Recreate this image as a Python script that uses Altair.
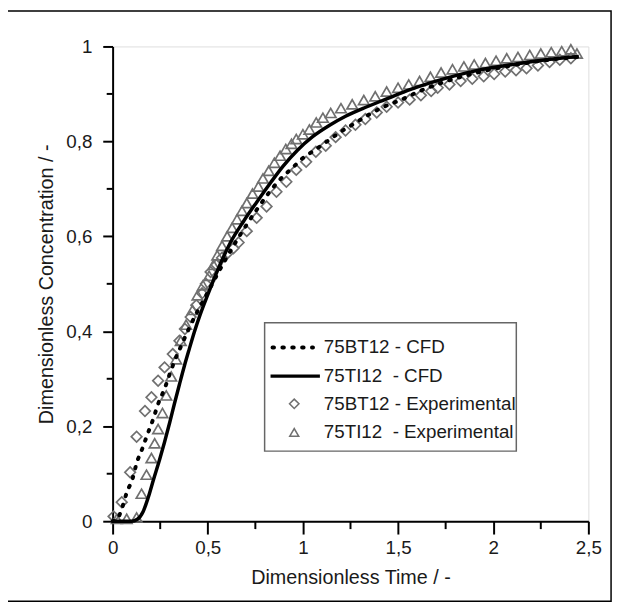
import altair as alt
import pandas as pd

# ---------------- data ----------------
bt_cfd_t = [0.0, 0.02, 0.048, 0.074, 0.105, 0.126, 0.157, 0.183, 0.213, 0.239, 0.273, 0.30, 0.325,
            0.36, 0.40, 0.45, 0.50, 0.55, 0.60, 0.65, 0.70, 0.75, 0.818, 0.88, 0.939, 1.0, 1.06,
            1.12, 1.19, 1.26, 1.328, 1.42, 1.518, 1.62, 1.726, 1.85, 1.97, 2.10, 2.22, 2.34, 2.45]
bt_cfd_c = [0.0, 0.002, 0.026, 0.06, 0.09, 0.122, 0.154, 0.183, 0.215, 0.247, 0.279, 0.31, 0.337,
            0.369, 0.405, 0.445, 0.482, 0.52, 0.556, 0.59, 0.622, 0.652, 0.69, 0.72, 0.742, 0.765, 0.781,
            0.798, 0.818, 0.835, 0.852, 0.872, 0.888, 0.907, 0.923, 0.938, 0.95, 0.96, 0.968, 0.974, 0.978]

ti_cfd_t = [0.0, 0.10, 0.13, 0.16, 0.187, 0.215, 0.247, 0.273, 0.30, 0.325, 0.351, 0.377, 0.403,
            0.429, 0.46, 0.498, 0.55, 0.619, 0.69, 0.757, 0.83, 0.896, 0.97, 1.051, 1.14, 1.224,
            1.33, 1.43, 1.57, 1.726, 1.90, 2.10, 2.30, 2.45]
ti_cfd_c = [0.0, 0.0, 0.004, 0.02, 0.05, 0.088, 0.13, 0.167, 0.208, 0.248, 0.288, 0.327, 0.363,
            0.398, 0.435, 0.475, 0.527, 0.587, 0.633, 0.672, 0.713, 0.748, 0.781, 0.81, 0.834, 0.853,
            0.872, 0.888, 0.91, 0.93, 0.948, 0.962, 0.973, 0.979]

bt_exp_t = [0.005, 0.048, 0.092, 0.126, 0.17, 0.204, 0.239, 0.273, 0.316, 0.351, 0.38, 0.41, 0.44,
            0.47, 0.49, 0.515, 0.545, 0.575, 0.605, 0.635, 0.662, 0.705, 0.757, 0.809, 0.861, 0.913,
            0.965, 1.017, 1.068, 1.12, 1.172, 1.224, 1.276, 1.328, 1.388, 1.44, 1.50, 1.561, 1.62,
            1.674, 1.708, 1.77, 1.829, 1.89, 1.95, 2.005, 2.063, 2.12, 2.175, 2.235, 2.296, 2.35, 2.408]
bt_exp_c = [0.01, 0.04, 0.103, 0.178, 0.232, 0.261, 0.296, 0.324, 0.352, 0.38, 0.405, 0.43, 0.455,
            0.48, 0.50, 0.525, 0.54, 0.555, 0.565, 0.575, 0.587, 0.611, 0.639, 0.663, 0.694, 0.715,
            0.74, 0.757, 0.778, 0.791, 0.809, 0.823, 0.835, 0.847, 0.861, 0.873, 0.882, 0.888, 0.897,
            0.906, 0.913, 0.92, 0.927, 0.932, 0.937, 0.942, 0.947, 0.95, 0.954, 0.96, 0.967, 0.972, 0.975]

ti_exp_t = [0.022, 0.074, 0.126, 0.152, 0.178, 0.204, 0.221, 0.239, 0.262, 0.282, 0.308, 0.334, 0.358,
            0.386, 0.42, 0.446, 0.475, 0.507, 0.53, 0.55, 0.575, 0.602, 0.628, 0.654, 0.68, 0.705,
            0.735, 0.766, 0.79, 0.82, 0.85, 0.88, 0.91, 0.94, 0.965, 1.0, 1.034, 1.07, 1.105, 1.146,
            1.20, 1.259, 1.32, 1.38, 1.44, 1.50, 1.556, 1.613, 1.67, 1.726, 1.786, 1.846, 1.90, 1.959,
            2.015, 2.071, 2.13, 2.192, 2.25, 2.305, 2.36, 2.408, 2.44]
ti_exp_c = [0.005, 0.005, 0.008, 0.058, 0.098, 0.133, 0.164, 0.194, 0.228, 0.265, 0.305, 0.341, 0.38,
            0.414, 0.445, 0.476, 0.497, 0.517, 0.54, 0.56, 0.58, 0.60, 0.618, 0.636, 0.654, 0.67,
            0.69, 0.705, 0.722, 0.738, 0.755, 0.77, 0.784, 0.795, 0.805, 0.815, 0.825, 0.84, 0.85, 0.86,
            0.87, 0.878, 0.887, 0.895, 0.905, 0.913, 0.92, 0.927, 0.936, 0.945, 0.952, 0.958, 0.962, 0.965,
            0.97, 0.975, 0.978, 0.982, 0.985, 0.988, 0.99, 0.994, 0.985]

x_ticks = [0, 0.5, 1, 1.5, 2, 2.5]
x_minor = [0.25, 0.75, 1.25, 1.75, 2.25]
y_ticks = [0, 0.2, 0.4, 0.6, 0.8, 1]
y_minor = [0.1, 0.3, 0.5, 0.7, 0.9]

legend_labels = ["75BT12 - CFD", "75TI12\u00a0\u00a0- CFD",
                 "75BT12 - Experimental", "75TI12\u00a0\u00a0- Experimental"]

# ---------------- layout ----------------
W, H = 482, 481
FONT = "Liberation Sans"
GRAY = "#707070"
TXT = "#1a1a1a"

xscale = alt.Scale(domain=[0, 2.5], nice=False, zero=False)
yscale = alt.Scale(domain=[0, 1], nice=False, zero=False)

x_axis = alt.Axis(values=x_ticks, labelExpr="replace(toString(datum.value), '.', ',')",
                  title="Dimensionless Time / -", grid=False, tickSize=13, tickWidth=2,
                  tickColor="black", domainColor="black", domainWidth=2,
                  labelFontSize=19, titleFontSize=20, labelPadding=5, titlePadding=10,
                  labelFont=FONT, titleFont=FONT, titleFontWeight="normal",
                  labelColor=TXT, titleColor=TXT, labelFlush=False)
y_axis = alt.Axis(values=y_ticks, labelExpr="replace(toString(datum.value), '.', ',')",
                  title="Dimensionless Concentration / -", grid=False, tickSize=10, tickWidth=2,
                  tickColor="black", domainColor="black", domainWidth=2,
                  labelFontSize=19, titleFontSize=20, labelPadding=11, titlePadding=9,
                  labelFont=FONT, titleFont=FONT, titleFontWeight="normal",
                  labelColor=TXT, titleColor=TXT, labelFlush=False)

X = alt.X("t:Q", scale=xscale, axis=x_axis)
Y = alt.Y("c:Q", scale=yscale, axis=y_axis)

df_bt_cfd = pd.DataFrame({"t": bt_cfd_t, "c": bt_cfd_c})
df_ti_cfd = pd.DataFrame({"t": ti_cfd_t, "c": ti_cfd_c})
df_bt_exp = pd.DataFrame({"t": bt_exp_t, "c": bt_exp_c})
df_ti_exp = pd.DataFrame({"t": ti_exp_t, "c": ti_exp_c})

pts_bt = alt.Chart(df_bt_exp).mark_point(shape="diamond", size=115, filled=False,
                                         color=GRAY, strokeWidth=1.7, opacity=1).encode(x=X, y=Y)
pts_ti = alt.Chart(df_ti_exp).mark_point(shape="triangle-up", size=115, filled=False,
                                         color=GRAY, strokeWidth=1.7, opacity=1).encode(x=X, y=Y)
line_bt = alt.Chart(df_bt_cfd).mark_line(color="black", strokeWidth=4, strokeDash=[1.5, 8.5],
                                         strokeCap="round", interpolate="monotone").encode(x=X, y=Y)
line_ti = alt.Chart(df_ti_cfd).mark_line(color="black", strokeWidth=3.5,
                                         interpolate="monotone").encode(x=X, y=Y)

# minor ticks
one = pd.DataFrame({"a": [0]})
xm = alt.Chart(pd.DataFrame({"t": x_minor})).mark_rule(color="black", strokeWidth=2).encode(
    x=alt.X("t:Q", scale=xscale), y=alt.value(H), y2=alt.value(H + 8))
ym = alt.Chart(pd.DataFrame({"c": y_minor})).mark_rule(color="black", strokeWidth=2).encode(
    y=alt.Y("c:Q", scale=yscale), x=alt.value(-6), x2=alt.value(0))

# legend (drawn manually, pixel positions relative to the plot area)
LX0, LX1, LY0, LY1 = 154, 409, 280, 410
row_y = [305, 334, 362, 391]
sym_x0, sym_x1, sym_c, txt_x = 160, 205, 184, 214

leg_box = alt.Chart(one).mark_rect(fill="white", stroke="#666", strokeWidth=1.5).encode(
    x=alt.value(LX0), x2=alt.value(LX1), y=alt.value(LY0), y2=alt.value(LY1))
leg_l1 = alt.Chart(one).mark_rule(color="black", strokeWidth=4, strokeDash=[1.5, 8.5],
                                  strokeCap="round").encode(
    x=alt.value(sym_x0 + 2), x2=alt.value(sym_x1 - 2), y=alt.value(row_y[0]))
leg_l2 = alt.Chart(one).mark_rule(color="black", strokeWidth=3.5).encode(
    x=alt.value(sym_x0), x2=alt.value(sym_x1 + 5), y=alt.value(row_y[1]))
leg_p1 = alt.Chart(one).mark_point(shape="diamond", size=90, filled=False, color=GRAY,
                                   strokeWidth=1.6, opacity=1).encode(
    x=alt.value(sym_c), y=alt.value(row_y[2]))
leg_p2 = alt.Chart(one).mark_point(shape="triangle-up", size=80, filled=False, color=GRAY,
                                   strokeWidth=1.6, opacity=1).encode(
    x=alt.value(sym_c), y=alt.value(row_y[3]))
leg_txt = []
for i, lab in enumerate(legend_labels):
    leg_txt.append(
        alt.Chart(pd.DataFrame({"label": [lab]})).mark_text(
            align="left", baseline="middle", font=FONT, fontSize=19, color=TXT).encode(
            x=alt.value(txt_x), y=alt.value(row_y[i]), text="label:N"))

# outer frame of the figure
frame = alt.Chart(one).mark_rect(fill=None, stroke="black", strokeWidth=1.5).encode(
    x=alt.value(-107), x2=alt.value(505), y=alt.value(-36), y2=alt.value(562))

chart = alt.layer(
    frame, pts_bt, pts_ti, line_bt, line_ti, xm, ym,
    leg_box, leg_l1, leg_l2, leg_p1, leg_p2, *leg_txt
).properties(
    width=W, height=H,
    autosize=alt.AutoSizeParams(type="none"),
    padding={"left": 106, "top": 35, "right": 28, "bottom": 86},
).configure_view(
    stroke="#888", strokeWidth=1.5
).configure(background="white")

chart.save("out.html", embed_options={"renderer": "svg", "actions": False})
